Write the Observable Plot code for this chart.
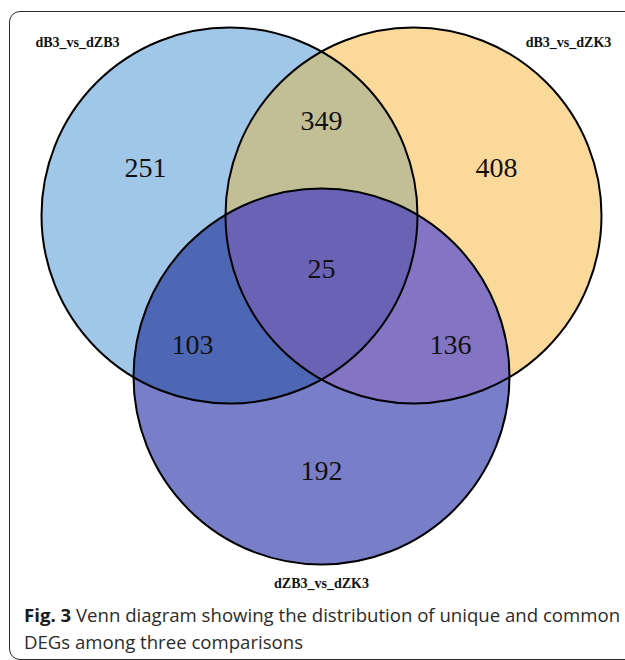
<!DOCTYPE html>
<html>
<head>
<meta charset="utf-8">
<script src="https://cdn.jsdelivr.net/npm/d3@7"></script>
<script src="https://cdn.jsdelivr.net/npm/@observablehq/plot@0.6"></script>
<style>
  html, body { margin: 0; padding: 0; background: #fff; }
  body { position: relative; width: 625px; height: 660px; overflow: hidden; }
  #panel {
    position: absolute; left: 9px; top: 11px; width: 660px; height: 649px;
    border: 1.5px solid #2a2a2a; border-radius: 11px; box-sizing: border-box;
  }
  #chart { position: absolute; left: 0; top: 0; }
  #caption {
    position: absolute; left: 24px; top: 601px; width: 600px;
    font-family: "Open Sans", sans-serif; font-size: 18.6px; line-height: 27px;
    color: #2b2b2b;
  }
  #caption b { font-weight: 700; color: #1a1a1a; }
</style>
</head>
<body>
<div id="panel"></div>
<div id="chart"></div>
<div id="caption"><b>Fig. 3</b> Venn diagram showing the distribution of unique and common DEGs among three comparisons</div>
<script>
// The three comparisons and their DEG counts per Venn region
const setNames = ["dB3_vs_dZB3", "dB3_vs_dZK3", "dZB3_vs_dZK3"];
const regionSets = ["A", "B", "C", "AB", "AC", "BC", "ABC"];
const regionCounts = [251, 408, 192, 349, 103, 136, 25];

// Diagram layout (pixels)
const circleX = [229, 413, 321];
const circleY = [215, 215, 376];
const circleR = 188;
const setLabelX = [77, 568, 321];
const setLabelY = [42, 42, 583];
const regionLabelX = [145, 496, 321, 321, 192, 450, 321];
const regionLabelY = [168, 168, 471, 121, 345, 345, 269];

// Fill for every region of the diagram
const regionColors = {
  A: "#a0c6e8", B: "#fbd99b", C: "#787fc8",
  AB: "#c2bf97", AC: "#4e67b4", BC: "#8474c4", ABC: "#6962b5"
};

const letters = ["A", "B", "C"];
const circles = letters.map((k, i) => ({key: k, x: circleX[i], y: circleY[i], r: circleR}));
const setLabels = setNames.map((name, i) => ({name, x: setLabelX[i], y: setLabelY[i]}));
const regions = regionSets.map((key, i) => ({key, count: regionCounts[i], x: regionLabelX[i], y: regionLabelY[i]}));

function regionAt(px, py) {
  let key = "";
  circles.forEach(c => {
    if ((px - c.x) ** 2 + (py - c.y) ** 2 <= c.r * c.r) key += c.key;
  });
  return key ? regionColors[key] : null;
}

const W = 625, H = 600;
const chart = Plot.plot({
  width: W,
  height: H,
  margin: 0,
  x: {domain: [0, W], range: [0, W], axis: null},
  y: {domain: [0, H], range: [0, H], axis: null},
  r: {type: "identity"},
  color: {type: "identity"},
  marks: [
    Plot.raster({x1: 0, x2: W, y1: 0, y2: H, pixelSize: 1, fill: regionAt}),
    Plot.dot(circles, {x: "x", y: "y", r: "r", fill: "none", stroke: "#000", strokeWidth: 2}),
    Plot.text(regions, {
      x: "x", y: "y", text: d => String(d.count),
      fontFamily: "Liberation Serif, Times New Roman, serif", fontSize: 28, fill: "#111"
    }),
    Plot.text(setLabels, {
      x: "x", y: "y", text: "name",
      fontFamily: "Liberation Serif, Times New Roman, serif", fontSize: 14, fontWeight: "bold", fill: "#111"
    })
  ]
});
chart.style.background = "transparent";
document.getElementById("chart").appendChild(chart);
</script>
</body>
</html>
